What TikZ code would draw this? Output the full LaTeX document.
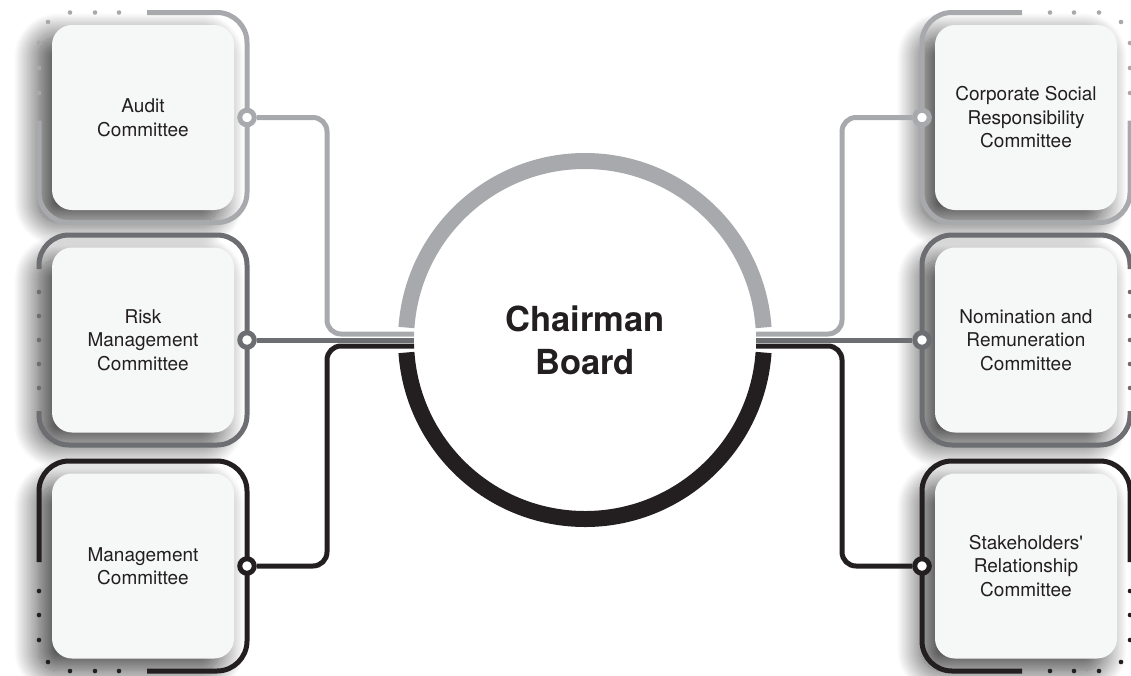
\documentclass[tikz,border=0pt]{standalone}
\usepackage{fontspec}
\setmainfont{TeX Gyre Heros}[Ligatures=TeXOff]
\usetikzlibrary{calc,shadows.blur}
\definecolor{lightline}{HTML}{A7A9AC}
\definecolor{midline}{HTML}{6D6E71}
\definecolor{darkline}{HTML}{231F20}
\definecolor{boxfill}{HTML}{F6F7F7}

\begin{document}
\begin{tikzpicture}[x=1pt,y=-1pt,line width=5pt]
\tikzstyle{committee}=[rectangle, rounded corners=20pt, fill=boxfill, outer sep=0pt,
	minimum width=182pt, minimum height=185pt, align=center, text=darkline,
	font=\fontsize{19}{23.5}\selectfont,
	blur shadow={shadow xshift=-14pt, shadow yshift=-12pt, shadow blur radius=24pt,
		shadow blur steps=30, shadow opacity=75}]
\tikzstyle{outline}=[rectangle, outer sep=0pt, inner sep=0pt, minimum width=208pt, minimum height=210pt]
\tikzstyle{joint}=[circle, fill=white, line width=5pt, minimum size=14.5pt, inner sep=0pt]
\tikzstyle{frame}=[rounded corners=30pt]
\tikzstyle{dot}=[radius=2.3]

\useasboundingbox (0,0) rectangle (1131,675);

% committees
\node[committee] (audit) at (143,117.5)	{Audit\\Committee};
\node[committee] (risk)  at (143,340)	{Risk\\Management\\Committee};
\node[committee] (mgmt)  at (143,566)	{Management\\Committee};
\node[committee] (csr)   at (1026,117.5)	{Corporate Social\\Responsibility\\Committee};
\node[committee] (nomin) at (1026,340)	{Nomination and\\Remuneration\\Committee};
\node[committee] (stake) at (1026,566)	{Stakeholders'\\Relationship\\Committee};

\foreach \n in {audit,risk,mgmt,csr,nomin,stake}
	\node[outline] (\n-fr) at (\n) {};

% open frames
\draw[frame, lightline] (audit-fr.north west) ++(108,0) -- (audit-fr.north east) -- (audit-fr.south east) -- (audit-fr.south west) -- ++(0,-102);
\draw[frame, midline]   (risk-fr.south west) ++(0,-34) -- (risk-fr.south west) -- (risk-fr.south east) -- (risk-fr.north east) -- (risk-fr.north west) -- ++(0,34);
\draw[frame, darkline]  (mgmt-fr.south west) ++(108,0) -- (mgmt-fr.south east) -- (mgmt-fr.north east) -- (mgmt-fr.north west) -- ++(0,101);
\draw[frame, lightline] (csr-fr.north east) ++(-108,0) -- (csr-fr.north west) -- (csr-fr.south west) -- (csr-fr.south east) -- ++(0,-102);
\draw[frame, midline]   (nomin-fr.south east) ++(0,-34) -- (nomin-fr.south east) -- (nomin-fr.south west) -- (nomin-fr.north west) -- (nomin-fr.north east) -- ++(0,34);
\draw[frame, darkline]  (stake-fr.south east) ++(-108,0) -- (stake-fr.south west) -- (stake-fr.north west) -- (stake-fr.north east) -- ++(0,101);

% dotted ends
\foreach \x/\y in {70/12.5,95/12.5,119/12.5,48/22,39/43,39/68,39/93}
	\fill[lightline] (\x,\y) circle[dot];
\foreach \y in {292,316,340,364,388}
	\fill[midline] (39,\y) circle[dot];
\foreach \x/\y in {39/591,39/615,39/640,48/662,70/671,95/671,119/671}
	\fill[darkline] (\x,\y) circle[dot];
\foreach \x/\y in {1099/12.5,1074/12.5,1050/12.5,1121/22,1130/43,1130/68,1130/93}
	\fill[lightline] (\x,\y) circle[dot];
\foreach \y in {292,316,340,364,388}
	\fill[midline] (1130,\y) circle[dot];
\foreach \x/\y in {1130/591,1130/615,1130/640,1121/662,1099/671,1074/671,1050/671}
	\fill[darkline] (\x,\y) circle[dot];

% board
\node[circle, outer sep=0pt, minimum size=342pt, align=center, text=darkline,
	font=\bfseries\fontsize{34.5}{43}\selectfont] (chair) at (585,340) {Chairman\\Board};
\draw[lightline, line width=16pt] (chair.center) ++(184:179) arc[start angle=184, end angle=356, radius=179];
\draw[darkline, line width=16pt] (chair.center) ++(4:179) arc[start angle=4, end angle=176, radius=179];

% joints
\node[joint, draw=lightline] (audit-pin) at (audit-fr.east) {};
\node[joint, draw=midline]   (risk-pin)  at (risk-fr.east) {};
\node[joint, draw=darkline]  (mgmt-pin)  at (mgmt-fr.east) {};
\node[joint, draw=lightline] (csr-pin)   at (csr-fr.west) {};
\node[joint, draw=midline]   (nomin-pin) at (nomin-fr.west) {};
\node[joint, draw=darkline]  (stake-pin) at (stake-fr.west) {};

% links to the board
\draw[lightline] (audit-pin.east) [rounded corners=14pt] -| ($(chair.west)+(-87,-6)$) [sharp corners] -- ($(chair.west)+(0,-6)$);
\draw[midline]   (risk-pin.east) -- (chair.west);
\draw[darkline]  (mgmt-pin.east) [rounded corners=14pt] -| ($(chair.west)+(-87,6)$) [sharp corners] -- ($(chair.west)+(0,6)$);
\draw[lightline] (csr-pin.west) [rounded corners=14pt] -| ($(chair.east)+(86,-6)$) [sharp corners] -- ($(chair.east)+(0,-6)$);
\draw[midline]   (nomin-pin.west) -- (chair.east);
\draw[darkline]  (stake-pin.west) [rounded corners=14pt] -| ($(chair.east)+(86,6)$) [sharp corners] -- ($(chair.east)+(0,6)$);

\end{tikzpicture}
\end{document}
